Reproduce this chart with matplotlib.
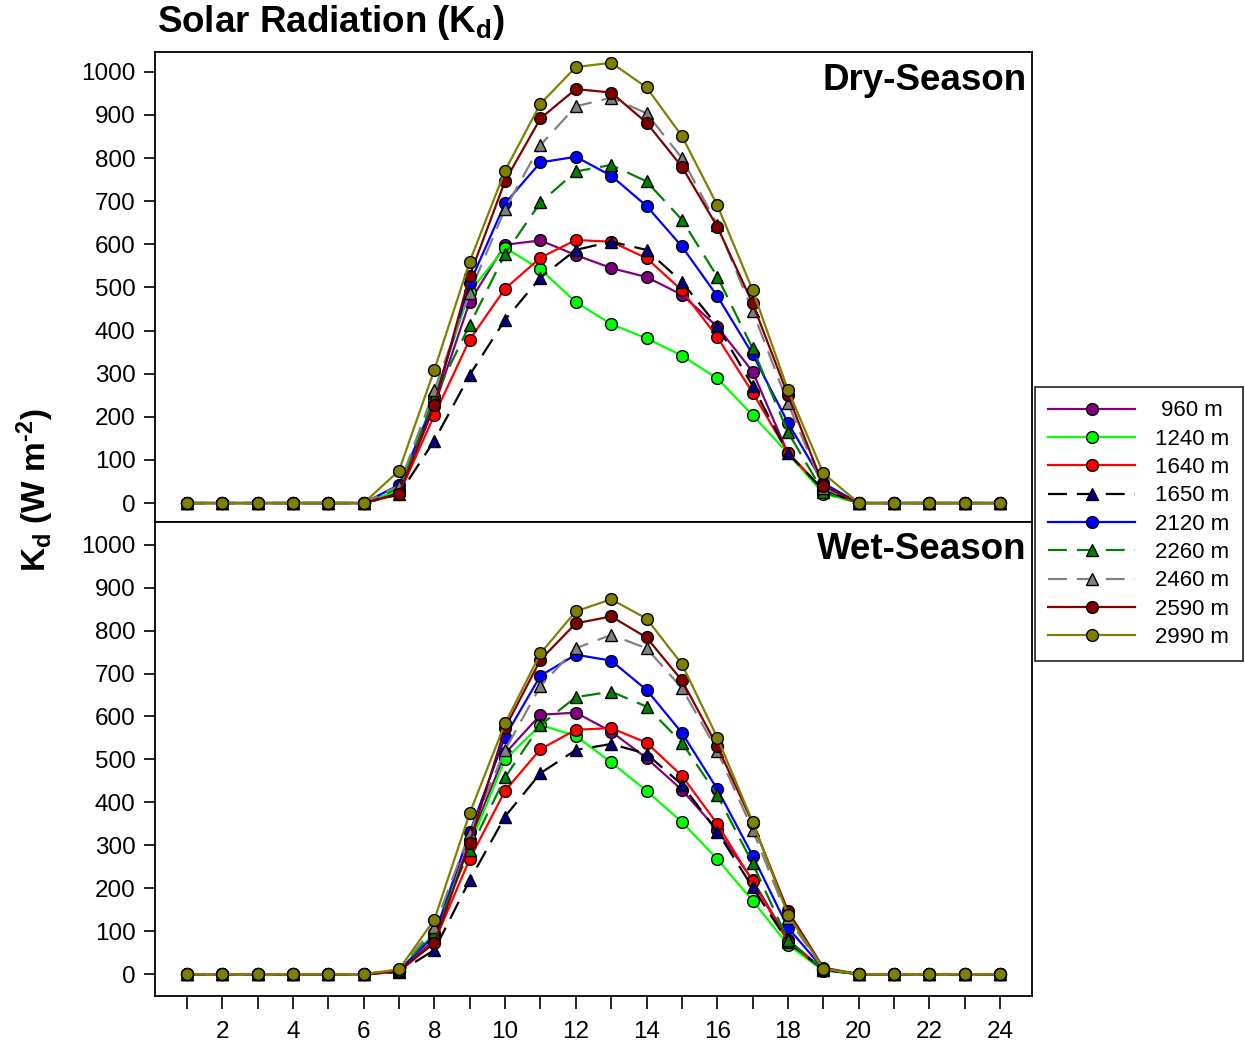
import matplotlib
matplotlib.use("Agg")
import matplotlib.pyplot as plt

plt.rcParams['font.family'] = ['Liberation Sans', 'DejaVu Sans']
plt.rcParams['mathtext.fontset'] = 'custom'
plt.rcParams['mathtext.rm'] = 'Liberation Sans:bold'
plt.rcParams['mathtext.bf'] = 'Liberation Sans:bold'
plt.rcParams['mathtext.it'] = 'Liberation Sans:bold'
plt.rcParams['mathtext.default'] = 'bf'

hours = list(range(1, 25))
legend_labels = [" 960 m", "1240 m", "1640 m", "1650 m", "2120 m", "2260 m", "2460 m", "2590 m", "2990 m"]

z6 = [0, 0, 0, 0, 0, 0]
z5 = [0, 0, 0, 0, 0]

dry_960 = z6 + [25, 225, 467, 599, 609, 575, 545, 524, 483, 409, 305, 115, 30] + z5
dry_1240 = z6 + [30, 245, 490, 592, 542, 466, 415, 382, 342, 289, 204, 115, 22] + z5
dry_1640 = z6 + [20, 204, 379, 497, 569, 610, 606, 568, 493, 385, 256, 117, 30] + z5
dry_1650 = z6 + [20, 145, 297, 425, 523, 587, 606, 587, 513, 411, 272, 115, 30] + z5
dry_2120 = z6 + [42, 235, 510, 695, 790, 803, 759, 689, 595, 480, 345, 186, 46] + z5
dry_2260 = z6 + [35, 245, 413, 578, 697, 769, 784, 746, 657, 525, 359, 164, 25] + z5
dry_2460 = z6 + [40, 262, 488, 682, 830, 920, 940, 904, 800, 645, 445, 231, 35] + z5
dry_2590 = z6 + [22, 227, 527, 747, 892, 960, 952, 882, 780, 641, 463, 250, 40] + z5
dry_2990 = z6 + [75, 309, 560, 771, 926, 1011, 1021, 964, 851, 691, 494, 262, 69] + z5

wet_960 = z6 + [5, 80, 310, 514, 604, 609, 565, 503, 429, 336, 219, 80, 10] + z5
wet_1240 = z6 + [8, 95, 300, 500, 580, 555, 493, 427, 354, 268, 171, 68, 8] + z5
wet_1640 = z6 + [5, 75, 268, 427, 524, 569, 573, 539, 462, 350, 216, 75, 10] + z5
wet_1650 = z6 + [5, 56, 219, 367, 468, 522, 536, 513, 441, 332, 202, 75, 10] + z5
wet_2120 = z6 + [8, 90, 330, 553, 695, 744, 730, 662, 562, 431, 276, 108, 12] + z5
wet_2260 = z6 + [8, 99, 289, 458, 580, 645, 658, 623, 539, 417, 258, 79, 10] + z5
wet_2460 = z6 + [10, 110, 329, 522, 671, 759, 790, 759, 666, 520, 336, 130, 12] + z5
wet_2590 = z6 + [8, 72, 306, 573, 732, 817, 833, 784, 684, 531, 352, 147, 15] + z5
wet_2990 = z6 + [11, 127, 375, 584, 747, 845, 873, 828, 722, 551, 355, 138, 13] + z5

dry = [dry_960, dry_1240, dry_1640, dry_1650, dry_2120, dry_2260, dry_2460, dry_2590, dry_2990]
wet = [wet_960, wet_1240, wet_1640, wet_1650, wet_2120, wet_2260, wet_2460, wet_2590, wet_2990]

styles = [
    dict(color='#800080', marker='o', mfc='#800080', ls='-'),
    dict(color='#00ff00', marker='o', mfc='#00ff00', ls='-'),
    dict(color='#ff0000', marker='o', mfc='#ff0000', ls='-'),
    dict(color='#000000', marker='^', mfc='#000080', ls='--'),
    dict(color='#0000ff', marker='o', mfc='#0000ff', ls='-'),
    dict(color='#008000', marker='^', mfc='#008000', ls='--'),
    dict(color='#808080', marker='^', mfc='#808080', ls='--'),
    dict(color='#800000', marker='o', mfc='#800000', ls='-'),
    dict(color='#808000', marker='o', mfc='#808000', ls='-'),
]

W, H = 1245, 1047
fig = plt.figure(figsize=(W / 100, H / 100), dpi=100)

def fx(px):
    return px / W

def fy(py):
    return 1 - py / H

ax1 = fig.add_axes([fx(155), fy(522), fx(1032) - fx(155), fy(52) - fy(522)])
ax2 = fig.add_axes([fx(155), fy(996), fx(1032) - fx(155), fy(522) - fy(996)])

handles = []
for ax, data in [(ax1, dry), (ax2, wet)]:
    for vals, st, lab in zip(data, styles, legend_labels):
        kw = dict(color=st['color'], marker=st['marker'], markerfacecolor=st['mfc'],
                  markeredgecolor='black', markeredgewidth=1.0, markersize=8.5,
                  linewidth=1.6, label=lab)
        if st['ls'] == '--':
            kw['dashes'] = (8.5, 4.5)
        else:
            kw['linestyle'] = '-'
        ln, = ax.plot(hours, vals, **kw)
        if ax is ax1:
            handles.append(ln)

ax1.set_xlim(0.1, 24.9)
ax2.set_xlim(0.1, 24.9)
ax1.set_ylim(-44, 1046)
ax2.set_ylim(-51, 1053)

for ax in (ax1, ax2):
    ax.set_yticks(range(0, 1001, 100))
    ax.tick_params(axis='y', direction='out', length=8, width=1.2, labelsize=17.5, pad=6)
    for sp in ax.spines.values():
        sp.set_linewidth(1.3)

ax1.set_xticks([])
ax2.set_xticks(hours)
ax2.set_xticklabels([str(h) if h % 2 == 0 else '' for h in hours])
ax2.tick_params(axis='x', direction='out', length=9, width=1.2, labelsize=17.5, pad=9)

ax1.text(0.994, 0.94, 'Dry-Season', transform=ax1.transAxes, ha='right', va='center',
         fontsize=26.5, fontweight='bold')
ax2.text(0.994, 0.941, 'Wet-Season', transform=ax2.transAxes, ha='right', va='center',
         fontsize=26.5, fontweight='bold')

fig.text(fx(157), fy(22), r'Solar Radiation (K$_d$)', ha='left', va='center',
         fontsize=26.5, fontweight='bold')
fig.text(fx(35), fy(490), 'K$_d$ (W m$^{\u2010 2}$)'.replace('\u2010 ', '\u2010'), ha='center', va='center',
         rotation=90, fontsize=24, fontweight='bold')

leg = fig.legend(handles=handles, loc='upper left', bbox_to_anchor=(fx(1035), fy(387)),
                 fontsize=16, frameon=True, fancybox=False, edgecolor='black',
                 handlelength=3.9, handletextpad=0.9, labelspacing=0.33,
                 borderpad=0.6, borderaxespad=0)
leg.get_frame().set_linewidth(1.3)

fig.savefig('out.png', dpi=100)
